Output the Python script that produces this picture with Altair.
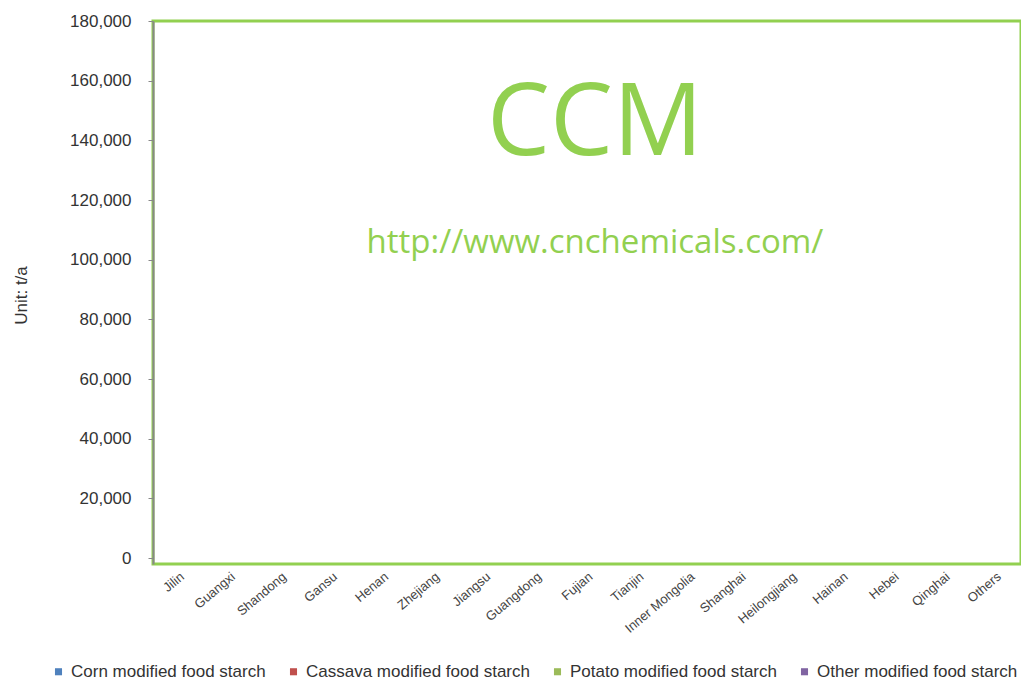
import altair as alt
import pandas as pd

regions = ["Jilin", "Guangxi", "Shandong", "Gansu", "Henan", "Zhejiang", "Jiangsu",
           "Guangdong", "Fujian", "Tianjin", "Inner Mongolia", "Shanghai",
           "Heilongjiang", "Hainan", "Hebei", "Qinghai", "Others"]
series = ["Corn modified food starch", "Cassava modified food starch",
          "Potato modified food starch", "Other modified food starch"]
# no bars are visible in the reference: every value reads as zero
corn = [0] * 17
cassava = [0] * 17
potato = [0] * 17
other = [0] * 17
colors = ["#4F81BD", "#C0504D", "#9BBB59", "#8064A2"]
y_ticks = [0, 20000, 40000, 60000, 80000, 100000, 120000, 140000, 160000, 180000]

rows = []
for s, vals in zip(series, [corn, cassava, potato, other]):
    for r, v in zip(regions, vals):
        rows.append({"Region": r, "Series": s, "Value": v})
df = pd.DataFrame(rows)

W, H = 868, 543

bars = alt.Chart(df).mark_bar().encode(
    x=alt.X("Region:N", sort=regions, title=None,
            scale=alt.Scale(paddingInner=0.3, paddingOuter=0.15),
            axis=alt.Axis(labelAngle=-40, labelFontSize=13, labelColor="#444444",
                          labelFont="Liberation Sans", domain=False, ticks=False,
                          labelPadding=6, labelLimit=200)),
    y=alt.Y("Value:Q", stack="zero", title="Unit: t/a",
            scale=alt.Scale(domain=[-2000, 180000], nice=False, zero=False),
            axis=alt.Axis(values=y_ticks, format=",d", grid=False,
                          labelFontSize=17, labelColor="#333333", labelFont="Liberation Sans",
                          labelPadding=17, tickSize=5, tickColor="#888888",
                          domainColor="#888888", domainWidth=2,
                          titleFont="Liberation Sans", titleFontSize=17,
                          titleFontWeight="normal", titleColor="#333333",
                          titleX=-132, titleY=274, titleAngle=-90,
                          titleBaseline="middle", titleAlign="center")),
    color=alt.Color("Series:N", sort=series,
                    scale=alt.Scale(domain=series, range=colors),
                    legend=alt.Legend(title=None, orient="none", direction="horizontal",
                                      legendX=-103, legendY=642,
                                      symbolType="square", symbolSize=50, symbolStrokeWidth=0,
                                      labelFont="Liberation Sans", labelFontSize=17,
                                      labelOffset=4, labelColor="#333333", columnPadding=19,
                                      labelLimit=300)),
    order=alt.Order("Series:N"),
)

ccm = alt.Chart(pd.DataFrame({"t": ["CCM"]})).mark_text(
    font="Open Sans", fontSize=100, color="#92D050",
    align="center", baseline="middle").encode(
    text="t:N", x=alt.value(442), y=alt.value(104))
url = alt.Chart(pd.DataFrame({"t": ["http://www.cnchemicals.com/"]})).mark_text(
    font="Open Sans", fontSize=33, color="#92D050", align="center",
    baseline="middle").encode(text="t:N", x=alt.value(442), y=alt.value(222))

chart = alt.layer(bars, ccm, url).properties(
    width=W, height=H,
    background="white",
    autosize=alt.AutoSizeParams(type="none"),
    padding={"left": 145, "top": 13, "right": 0, "bottom": 116},
).configure_view(stroke="#92D050", strokeWidth=3)

chart.save("out.html", embed_options={"renderer": "svg", "actions": False})
